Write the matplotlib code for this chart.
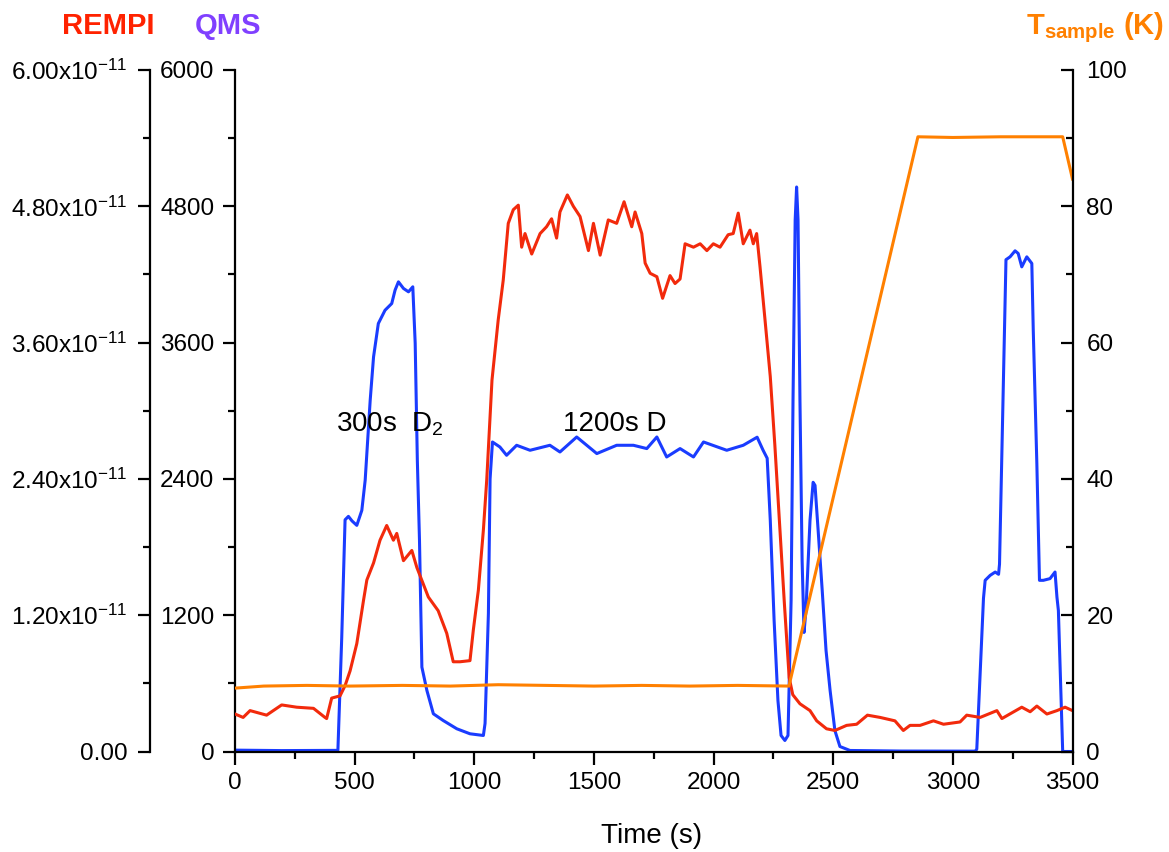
import matplotlib
matplotlib.use("Agg")
import matplotlib.pyplot as plt
from matplotlib.ticker import MultipleLocator, FuncFormatter

# QMS signal (counts) vs time (s)
time_qms = [0, 195, 430, 446, 460, 474, 489, 509, 530, 544, 565, 579, 599, 627, 655,
            669, 683, 704, 725, 743, 753, 762, 771, 781, 802, 829, 870, 927, 982,
            1038, 1045, 1059, 1066, 1076, 1107, 1135, 1177, 1233, 1316, 1358, 1428,
            1512, 1595, 1665, 1721, 1763, 1804, 1860, 1916, 1958, 2055, 2124, 2182,
            2207, 2224, 2237, 2253, 2269, 2282, 2298, 2311, 2324, 2332, 2341, 2347,
            2353, 2361, 2370, 2378, 2386, 2403, 2416, 2424, 2437, 2454, 2470, 2487,
            2507, 2528, 2570, 2784, 3093, 3100, 3128, 3135, 3156, 3177, 3191, 3195,
            3222, 3239, 3260, 3273, 3288, 3309, 3330, 3336, 3351, 3362, 3378, 3406,
            3427, 3435, 3441, 3459, 3500]
qms = [12, 8, 10, 1000, 2040, 2070, 2030, 1991, 2123, 2388, 3093, 3474, 3768, 3885,
       3944, 4062, 4135, 4077, 4047, 4091, 3595, 2564, 1859, 743, 537, 332, 273, 200,
       156, 141, 247, 1216, 2400, 2725, 2681, 2608, 2696, 2652, 2696, 2637, 2769,
       2623, 2696, 2696, 2667, 2769, 2593, 2667, 2593, 2725, 2652, 2696, 2767, 2652,
       2582, 2035, 1154, 449, 141, 97, 141, 1330, 3093, 4678, 4970, 4678, 3093, 1683,
       1048, 1242, 2035, 2370, 2343, 1947, 1419, 890, 537, 185, 44, 9, 4, 3, 20, 1350,
       1507, 1551, 1580, 1560, 1650, 4330, 4355, 4408, 4385, 4267, 4355, 4297, 3709,
       2535, 1507, 1507, 1522, 1580, 1359, 1242, 0, 0]

# REMPI signal, in units of 1e-11
time_rempi = [0, 34, 63, 132, 195, 258, 328, 376, 383, 404, 439, 460, 481, 509, 537,
              551, 579, 606, 634, 662, 676, 704, 739, 760, 808, 849, 885, 912, 940,
              982, 996, 1017, 1038, 1052, 1074, 1100, 1121, 1142, 1163, 1184, 1198,
              1212, 1240, 1275, 1302, 1323, 1344, 1358, 1389, 1414, 1442, 1477, 1498,
              1526, 1560, 1595, 1626, 1658, 1672, 1700, 1714, 1735, 1763, 1787, 1818,
              1839, 1860, 1881, 1916, 1944, 1972, 1999, 2027, 2061, 2082, 2103, 2124,
              2152, 2166, 2180, 2194, 2215, 2237, 2256, 2276, 2296, 2316, 2331, 2361,
              2403, 2431, 2472, 2507, 2556, 2598, 2643, 2696, 2758, 2793, 2821, 2863,
              2919, 2961, 3030, 3058, 3114, 3184, 3205, 3238, 3288, 3323, 3351, 3393,
              3435, 3469, 3500]
rempi = [0.33, 0.30, 0.36, 0.32, 0.41, 0.39, 0.38, 0.30, 0.29, 0.47, 0.49, 0.58, 0.71,
         0.95, 1.33, 1.51, 1.66, 1.86, 1.99, 1.86, 1.92, 1.68, 1.77, 1.62, 1.36, 1.24,
         1.04, 0.79, 0.79, 0.80, 1.07, 1.42, 1.95, 2.39, 3.27, 3.80, 4.15, 4.65, 4.77,
         4.81, 4.44, 4.56, 4.38, 4.56, 4.62, 4.69, 4.52, 4.75, 4.90, 4.80, 4.71, 4.41,
         4.65, 4.37, 4.68, 4.65, 4.84, 4.62, 4.75, 4.56, 4.30, 4.21, 4.18, 3.99, 4.19,
         4.12, 4.16, 4.47, 4.44, 4.47, 4.41, 4.47, 4.44, 4.55, 4.56, 4.74, 4.47, 4.59,
         4.47, 4.56, 4.27, 3.80, 3.30, 2.70, 2.00, 1.30, 0.65, 0.50, 0.42, 0.36, 0.27,
         0.20, 0.185, 0.23, 0.24, 0.32, 0.30, 0.27, 0.185, 0.23, 0.23, 0.27, 0.24, 0.26,
         0.32, 0.30, 0.36, 0.29, 0.33, 0.39, 0.35, 0.40, 0.33, 0.36, 0.39, 0.36]

# sample temperature (K)
time_temp = [0, 120, 300, 480, 700, 900, 1100, 1300, 1500, 1700, 1900, 2100, 2315,
             2854, 3000, 3200, 3459, 3500]
temp = [9.3, 9.6, 9.7, 9.6, 9.7, 9.6, 9.8, 9.7, 9.6, 9.7, 9.6, 9.7, 9.6,
        90.2, 90.1, 90.2, 90.2, 84.0]

rempi_ticks = [0, 1.2e-11, 2.4e-11, 3.6e-11, 4.8e-11, 6.0e-11]

RED = "#F22A0C"
BLUE = "#1A3CFF"
ORANGE = "#FF8000"

plt.rcParams["font.family"] = "Liberation Sans"
plt.rcParams["mathtext.fontset"] = "custom"
plt.rcParams["mathtext.rm"] = "Liberation Sans"
plt.rcParams["mathtext.bf"] = "Liberation Sans:bold"
plt.rcParams["mathtext.it"] = "Liberation Sans:italic"

W, H = 1169, 852
fig = plt.figure(figsize=(W / 100, H / 100), dpi=100)
ax = fig.add_axes([235 / W, 1 - 751.5 / H, (1072.5 - 235) / W, (751.5 - 70) / H])
ax_rempi = ax.twinx()
ax_temp = ax.twinx()

ax.plot(time_qms, qms, color=BLUE, lw=2.2)
ax_rempi.plot(time_rempi, [v * 1e-11 for v in rempi], color=RED, lw=2.2)
ax_temp.plot(time_temp, temp, color=ORANGE, lw=2.2)

ax.set_xlim(0, 3500)
ax.set_ylim(0, 6000)
ax_rempi.set_ylim(0, 6e-11)
ax_temp.set_ylim(0, 100)

# spines
lw = 1.6
for a in (ax, ax_rempi, ax_temp):
    a.spines["top"].set_visible(False)
    for s in a.spines.values():
        s.set_linewidth(lw)
ax.spines["right"].set_visible(False)
ax_rempi.spines["right"].set_visible(False)
ax_rempi.spines["bottom"].set_visible(False)
ax_rempi.spines["left"].set_position(("outward", 61.5))
ax_rempi.yaxis.tick_left()
ax_temp.spines["left"].set_visible(False)
ax_temp.spines["bottom"].set_visible(False)

# ticks
ax.xaxis.set_major_locator(MultipleLocator(500))
ax.xaxis.set_minor_locator(MultipleLocator(250))
ax.yaxis.set_major_locator(MultipleLocator(1200))
ax.yaxis.set_minor_locator(MultipleLocator(600))
ax_rempi.set_yticks(rempi_ticks)
ax_rempi.yaxis.set_minor_locator(MultipleLocator(0.6e-11))
ax_temp.yaxis.set_major_locator(MultipleLocator(20))
ax_temp.yaxis.set_minor_locator(MultipleLocator(10))


def rempi_fmt(v, pos):
    if abs(v) < 1e-15:
        return "0.00"
    return f"{v / 1e-11:.2f}x10$^{{-11}}$"


ax_rempi.yaxis.set_major_formatter(FuncFormatter(rempi_fmt))

ax.tick_params(which="major", direction="out", length=9, width=lw, labelsize=17.5, pad=6)
ax.tick_params(which="minor", direction="out", length=5, width=lw)
ax_rempi.tick_params(axis="y", which="major", direction="out", length=9, width=lw,
                     labelsize=17.5, pad=7)
ax_rempi.tick_params(axis="y", which="minor", direction="out", length=5, width=lw)
ax_temp.tick_params(axis="y", which="major", direction="in", length=9, width=lw,
                    labelsize=17.5, pad=10)
ax_temp.tick_params(axis="y", which="minor", direction="in", length=5, width=lw)

# axis titles
fig.text(62 / W, 1 - 34 / H, "REMPI", color="#FF2200", fontsize=21,
         fontweight="bold", va="baseline", ha="left")
fig.text(195 / W, 1 - 34 / H, "QMS", color="#8040FF", fontsize=21,
         fontweight="bold", va="baseline", ha="left")
fig.text(1164 / W, 1 - 34 / H, r"$\mathbf{T}_{\mathbf{sample}}$ $\mathbf{(K)}$",
         color=ORANGE, fontsize=21, va="baseline", ha="right")
fig.text(652 / W, 1 - 843 / H, "Time (s)", fontsize=20, va="baseline", ha="center")

# annotations
ax.text(422, 2818, "300s  D$_2$", fontsize=20, va="baseline", ha="left")
ax.text(1370, 2818, "1200s D", fontsize=20, va="baseline", ha="left")

fig.savefig("out.png", dpi=100)
